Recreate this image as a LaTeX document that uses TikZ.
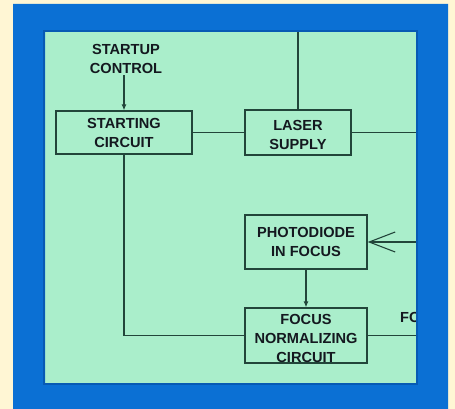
\documentclass[tikz,border=0pt]{standalone}
\usepackage{fontspec}
\setmainfont{Liberation Sans}
\usetikzlibrary{arrows.meta}
\definecolor{cream}{HTML}{FFF6D4}
\definecolor{frameblue}{HTML}{0B70D4}
\definecolor{frameedge}{HTML}{075AB4}
\definecolor{panel}{HTML}{AAEECB}
\definecolor{wirec}{HTML}{22453A}
\definecolor{ink}{HTML}{14181F}
\begin{document}
\begin{tikzpicture}[x=1pt,y=-1pt,
  ln/.style={draw=wirec, line width=1.1pt},
  txt/.style={font=\fontsize{14.6}{19}\selectfont\bfseries, text=ink, align=center, inner sep=0pt},
  blk/.style={ln, line width=1.3pt, txt},
  arr/.style={ln, -{Latex[length=6pt,width=5pt]}},
  barb/.style={ln, -{Straight Barb[length=26pt,width=20pt,line width=1.1pt]}}]
\useasboundingbox (0,0) rectangle (455,409);
\fill[cream] (0,0) rectangle (455,409);
\fill[panel] (45,32) rectangle (416,383);

% blocks
\node[txt] (ctl) at (126,58.5) {STARTUP\\CONTROL};
\node[blk, minimum width=136pt, minimum height=43pt] (start) at (124,132.5) {STARTING\\CIRCUIT};
\node[blk, minimum width=106pt, minimum height=45pt] (laser) at (298,132.5) {\rule{0pt}{15.5pt}LASER\\SUPPLY};
\node[blk, minimum width=122pt, minimum height=54pt] (photo) at (306,242) {PHOTODIODE\\IN FOCUS};
\node[blk, minimum width=122pt, minimum height=55pt] (focus) at (306,335.5) {\rule{0pt}{16pt}FOCUS\\NORMALIZING\\CIRCUIT};
\node[txt, anchor=west] (fo) at (400,317) {FO};

% free ends at the panel edge
\coordinate (ltop) at (298,32);
\coordinate (redge) at (416,0);

% connectors
\draw[arr] ([yshift=-2pt]start.north |- ctl.south) -- (start.north);
\draw[ln] (start.east) -- (laser.west);
\draw[ln] (laser.north) -- (ltop);
\draw[ln] (laser.east) -- (laser.east -| redge);
\draw[ln] (start.south) |- (focus.west);
\draw[barb] (photo.east -| redge) -- (photo.east);
\draw[arr] (photo.south) -- (focus.north);
\draw[ln] (focus.east) -- (focus.east -| redge);

% frame on top
\fill[frameblue, even odd rule] (13,4) rectangle (448,409) (45,32) rectangle (416,383);
\draw[frameedge, line width=1.5pt] (44,31) rectangle (417,384);
\end{tikzpicture}
\end{document}
